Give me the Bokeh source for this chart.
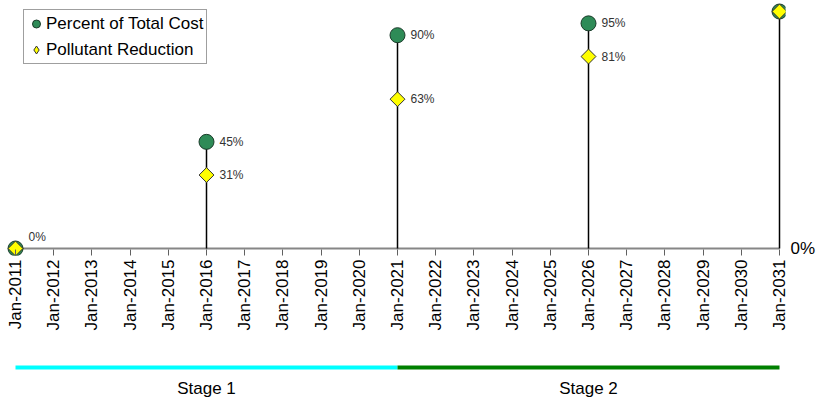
import numpy as np
from bokeh.plotting import figure
from bokeh.models import (ColumnDataSource, Range1d, FixedTicker, LinearAxis,
                          LabelSet, Legend, LegendItem)
from bokeh.layouts import column
from bokeh.embed import file_html
from bokeh.resources import INLINE
from bokeh.core.properties import value

# ---------------- data ----------------
years = [2011, 2016, 2021, 2026, 2031]
percent_total_cost = [0, 45, 90, 95, 100]
pollutant_reduction = [0, 31, 63, 81, 100]
tick_years = list(range(2011, 2032))
tick_labels = ["Jan-%d" % y for y in tick_years]
stage_names = ["Stage 1", "Stage 2"]
stage_start = [2011, 2021]
stage_end = [2021, 2031]
stage_colors = ["#00FFFF", "#008000"]

FONT = "Liberation Sans"
PX_YEAR = 38.2
PX_PCT = 2.37

# ---------------- main figure ----------------
p = figure(width=825, height=340, output_backend="svg", toolbar_location=None,
           x_range=Range1d(years[0] - 15 / PX_YEAR, years[-1] + 6 / PX_YEAR),
           y_range=Range1d(-7 / PX_PCT, 248 / PX_PCT),
           y_axis_location=None,
           min_border_left=0, min_border_right=40, min_border_top=0, min_border_bottom=85)
p.xgrid.visible = False
p.ygrid.visible = False
p.outline_line_color = None

xa = p.xaxis[0]
xa.ticker = FixedTicker(ticks=tick_years)
xa.major_label_overrides = {y: lab for y, lab in zip(tick_years, tick_labels)}
xa.major_label_orientation = np.pi / 2
xa.axis_line_color = None
xa.major_tick_in = 6
xa.major_tick_out = 0
xa.major_tick_line_color = "#606060"
xa.minor_tick_line_color = None
xa.major_label_standoff = 4
xa.major_label_text_font = FONT
xa.major_label_text_font_size = "17px"
xa.major_label_text_color = "#000000"

ra = LinearAxis(ticker=FixedTicker(ticks=[0]), major_label_overrides={0: "0%"})
ra.axis_line_color = None
ra.major_tick_line_color = None
ra.minor_tick_line_color = None
ra.major_tick_in = 0
ra.major_tick_out = 0
ra.minor_tick_in = 0
ra.minor_tick_out = 0
ra.major_label_standoff = 5
ra.major_label_text_font = FONT
ra.major_label_text_font_size = "17px"
ra.major_label_text_color = "#000000"
p.add_layout(ra, "right")

# axis baseline
p.segment(x0=[years[0]], y0=[0], x1=[years[-1]], y1=[0], line_color="#868686", line_width=2)
# stems
p.segment(x0=years, y0=[0] * len(years), x1=years, y1=percent_total_cost,
          line_color="#000000", line_width=1.5)

r1 = p.scatter(years, percent_total_cost, marker="circle", size=15,
               fill_color="#2E8B57", line_color="#1B3B2A", line_width=1)
r2 = p.scatter(years, pollutant_reduction, marker="square", angle=np.pi / 4, size=10.5,
               fill_color="#FFFF00", line_color="#333333", line_width=1)
# hidden twin used only for the legend swatch (legend swatches ignore angle)
r2_legend = p.scatter(years, pollutant_reduction, marker="diamond", size=15,
                      fill_color="#FFFF00", line_color="#333333", line_width=1,
                      visible=False)

# data labels
mid = [i for i in range(len(years)) if percent_total_cost[i] != pollutant_reduction[i]]
cost_src = ColumnDataSource(dict(x=[years[i] for i in mid],
                                 y=[percent_total_cost[i] for i in mid],
                                 t=["%d%%" % percent_total_cost[i] for i in mid]))
red_src = ColumnDataSource(dict(x=[years[i] for i in mid],
                                y=[pollutant_reduction[i] for i in mid],
                                t=["%d%%" % pollutant_reduction[i] for i in mid]))
start_src = ColumnDataSource(dict(x=[years[0]], y=[pollutant_reduction[0]],
                                  t=["%d%%" % pollutant_reduction[0]]))
end_src = ColumnDataSource(dict(x=[years[-1]], y=[pollutant_reduction[-1]],
                                t=["%d%%" % pollutant_reduction[-1]]))

for src, yoff, style, col in [(cost_src, 0, "normal", "#333333"),
                              (red_src, 0, "normal", "#333333"),
                              (start_src, 12, "normal", "#333333"),
                              (end_src, 0, "bold", "#000000")]:
    ls = LabelSet(x="x", y="y", text="t", source=src, x_offset=13, y_offset=yoff,
                  text_baseline="middle", text_align="left",
                  text_font=value(FONT), text_font_size="12px",
                  text_font_style=style, text_color=col)
    p.add_layout(ls)

legend = Legend(items=[LegendItem(label="Percent of Total Cost", renderers=[r1]),
                       LegendItem(label="Pollutant Reduction", renderers=[r2_legend])],
                location=(23, 191))
legend.click_policy = "none"
legend.inactive_fill_alpha = 0
legend.padding = 2
legend.spacing = 3
legend.glyph_width = 20
legend.glyph_height = 23
legend.label_height = 23
legend.label_standoff = 0
legend.label_text_font = FONT
legend.label_text_font_size = "17px"
legend.label_text_color = "#000000"
legend.border_line_color = "#404040"
legend.border_line_width = 1
legend.background_fill_color = "#FFFFFF"
legend.background_fill_alpha = 1.0
legend.margin = 0
p.add_layout(legend)

# ---------------- stage strip ----------------
p2 = figure(width=825, height=60, output_backend="svg", toolbar_location=None,
            x_range=p.x_range, y_range=Range1d(0, 60),
            x_axis_location=None, y_axis_location=None,
            min_border_left=0, min_border_right=40, min_border_top=0, min_border_bottom=0)
p2.xgrid.visible = False
p2.ygrid.visible = False
p2.outline_line_color = None
p2.segment(x0=stage_start, y0=[33] * len(stage_start), x1=stage_end, y1=[33] * len(stage_end),
           line_color=stage_colors, line_width=4)
p2.text(x=[(a + b) / 2 for a, b in zip(stage_start, stage_end)], y=[12] * len(stage_names),
        text=stage_names, text_align="center", text_baseline="middle",
        text_font=value(FONT), text_font_size="17px", text_color="#000000")

layout = column(p, p2)
open("out.html", "w").write(file_html(layout, INLINE))
